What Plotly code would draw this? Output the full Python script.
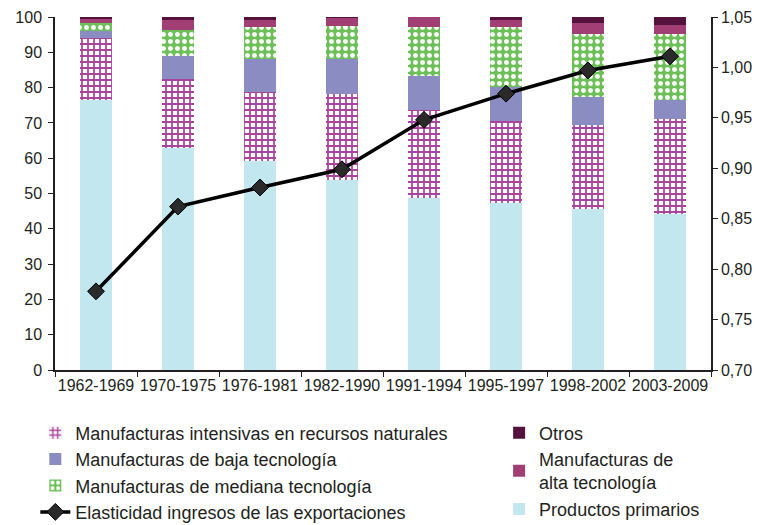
import plotly.graph_objects as go

periodos = ["1962-1969", "1970-1975", "1976-1981", "1982-1990",
            "1991-1994", "1995-1997", "1998-2002", "2003-2009"]

# Composición de las exportaciones (% del total)
productos_primarios = [76.5, 62.9, 59.2, 53.8, 48.6, 47.4, 45.6, 44.2]
recursos_naturales = [17.6, 19.4, 19.6, 24.3, 25.1, 23.1, 23.8, 26.8]
baja_tecnologia = [1.9, 6.7, 9.3, 10.0, 9.7, 9.6, 7.9, 5.5]
mediana_tecnologia = [2.2, 7.3, 9.2, 9.4, 13.9, 17.0, 17.9, 18.7]
alta_tecnologia = [1.1, 2.9, 1.9, 2.3, 2.7, 2.1, 3.0, 2.5]
otros = [0.7, 0.8, 0.8, 0.2, 0.0, 0.8, 1.8, 2.3]

# Elasticidad ingreso de las exportaciones (eje derecho)
elasticidad = [0.778, 0.862, 0.881, 0.899, 0.948, 0.974, 0.997, 1.011]

FONT = "Liberation Sans, Arial, sans-serif"
INK = "#231f20"

fig = go.Figure()

fig.add_bar(x=periodos, y=productos_primarios, name="Productos primarios",
            marker=dict(color="#c3e7ef", line=dict(width=0)),
            legend="legend2", legendrank=3)
fig.add_bar(x=periodos, y=recursos_naturales,
            name="Manufacturas intensivas en recursos naturales",
            marker=dict(color="white", line=dict(width=0),
                        pattern=dict(shape="+", fgcolor="#a9449e",
                                     bgcolor="white", size=6, solidity=0.5,
                                     fillmode="replace")),
            legend="legend", legendrank=1)
fig.add_bar(x=periodos, y=baja_tecnologia, name="Manufacturas de baja tecnología",
            marker=dict(color="#8a8cc2", line=dict(width=0)),
            legend="legend", legendrank=2)
fig.add_bar(x=periodos, y=mediana_tecnologia,
            name="Manufacturas de mediana tecnología",
            marker=dict(color="#6dbf57", line=dict(width=0),
                        pattern=dict(shape=".", fgcolor="white",
                                     bgcolor="#6dbf57", size=7, solidity=0.4,
                                     fillmode="replace")),
            legend="legend", legendrank=3)
fig.add_bar(x=periodos, y=alta_tecnologia, name="Manufacturas de<br>alta tecnología",
            marker=dict(color="#a13f75", line=dict(width=0)),
            legend="legend2", legendrank=2)
fig.add_bar(x=periodos, y=otros, name="Otros",
            marker=dict(color="#55123c", line=dict(width=0)),
            legend="legend2", legendrank=1)

fig.add_scatter(x=periodos, y=elasticidad, yaxis="y2",
                name="Elasticidad ingresos de las exportaciones",
                mode="lines+markers",
                line=dict(color="black", width=3.5),
                marker=dict(symbol="diamond", size=13, color="#2a2a2a",
                            line=dict(color="black", width=1)),
                legend="legend", legendrank=4)

axis_common = dict(showline=True, linecolor=INK, linewidth=1.5,
                   ticks="outside", tickcolor=INK, tickwidth=1.2, ticklen=5,
                   showgrid=False, zeroline=False,
                   tickfont=dict(family=FONT, size=16, color=INK))

legend_common = dict(xanchor="left", yanchor="top", traceorder="normal",
                     font=dict(family=FONT, size=18, color=INK),
                     bgcolor="rgba(0,0,0,0)", tracegroupgap=0, itemwidth=30)

fig.update_layout(
    width=757, height=525,
    margin=dict(l=55, r=46, t=17, b=155, autoexpand=False),
    paper_bgcolor="white", plot_bgcolor="white",
    barmode="stack", bargap=0.6,
    separators=",.",
    font=dict(family=FONT, color=INK),
    xaxis=dict(**axis_common, tickson="boundaries", range=[-0.5, 7.5],
               tickangle=0),
    yaxis=dict(**axis_common, range=[0, 100], dtick=10, ticklabelstandoff=3),
    yaxis2=dict(**axis_common, range=[0.70, 1.05], dtick=0.05,
                tickformat=".2f", overlaying="y", side="right"),
    legend=dict(x=-0.03, y=-0.126, **legend_common),
    legend2=dict(x=0.677, y=-0.126, **legend_common),
)

fig.write_html("out.html")
